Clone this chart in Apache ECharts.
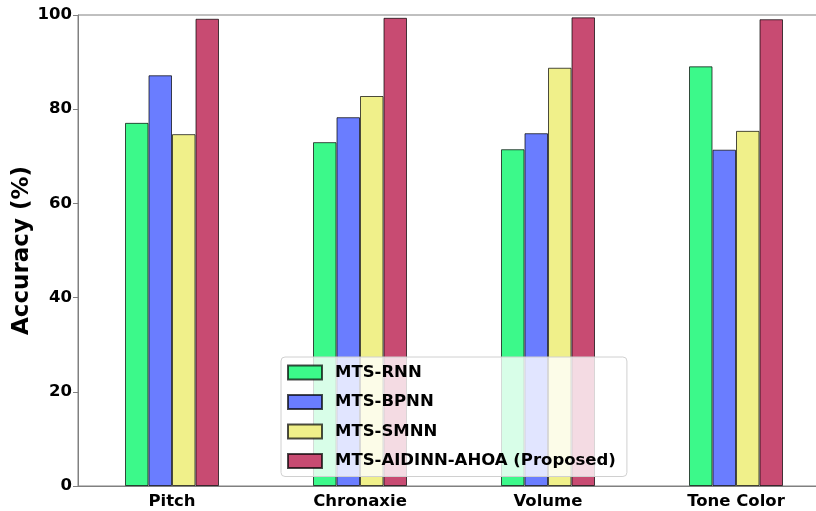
<!DOCTYPE html>
<html>
<head>
<meta charset="utf-8">
<script src="https://cdn.jsdelivr.net/npm/echarts@6/dist/echarts.min.js"></script>
<style>
  html, body { margin: 0; padding: 0; background: #fff; overflow: hidden; }
  #chart { width: 830px; height: 511px; }
</style>
</head>
<body>
<div id="chart"></div>
<script>
// 类别与各模型准确率
var categories = ["Pitch", "Chronaxie", "Volume", "Tone Color"];
var rnn = [77.1, 73.0, 71.5, 89.1];
var bpnn = [87.2, 78.3, 74.9, 71.4];
var smnn = [74.7, 82.8, 88.8, 75.4];
var aidinn = [99.2, 99.4, 99.5, 99.1];
var yTicks = [0, 20, 40, 60, 80, 100];

var myChart = echarts.init(document.getElementById("chart"));
var font = "DejaVu Sans";
var edge = "rgba(0,0,0,0.7)";

function barSeries(name, data, color) {
	return {
		name: name,
		type: "bar",
		data: data,
		barWidth: 23.5,
		barGap: "0%",
		itemStyle: { color: color, borderColor: edge, borderWidth: 1 }
	};
}

var option = {
	animation: false,
	grid: {
		left: 78, right: 0, top: 15, bottom: 25,
		outerBoundsMode: "none",
		containLabel: false,
		show: true, borderColor: "#808080", borderWidth: 1,
		backgroundColor: "transparent"
	},
	xAxis: {
		type: "category",
		data: categories,
		axisLine: { lineStyle: { color: "#808080", width: 1 } },
		axisTick: { alignWithLabel: true, length: 5, lineStyle: { color: "#808080" } },
		axisLabel: { color: "#000", fontFamily: font, fontWeight: "bold", fontSize: 16.5, margin: 7 }
	},
	yAxis: {
		type: "value",
		min: yTicks[0],
		max: yTicks[yTicks.length - 1],
		interval: 20,
		name: "Accuracy (%)",
		nameLocation: "middle",
		nameGap: 44,
		nameMoveOverlap: false,
		nameTextStyle: { color: "#000", fontFamily: font, fontWeight: "bold", fontSize: 23 },
		axisLine: { show: true, lineStyle: { color: "#808080", width: 1 } },
		axisTick: { show: true, length: 5, lineStyle: { color: "#808080" } },
		axisLabel: { color: "#000", fontFamily: font, fontWeight: "bold", fontSize: 16.5, margin: 6 },
		splitLine: { show: false }
	},
	legend: {
		orient: "vertical",
		left: 281,
		top: 357,
		padding: [7, 11, 7, 6],
		itemWidth: 34,
		itemHeight: 14,
		itemGap: 12.5,
		icon: "rect",
		backgroundColor: "rgba(255,255,255,0.8)",
		borderColor: "#d0d0d0",
		borderWidth: 1,
		borderRadius: 4,
		textStyle: { color: "#000", fontFamily: font, fontWeight: "bold", fontSize: 16.5, padding: [0, 0, 0, 8] },
		data: ["MTS-RNN", "MTS-BPNN", "MTS-SMNN", "MTS-AIDINN-AHOA (Proposed)"]
	},
	series: [
		barSeries("MTS-RNN", rnn, "#3cf98a"),
		barSeries("MTS-BPNN", bpnn, "#6a7dff"),
		barSeries("MTS-SMNN", smnn, "#f0f08a"),
		barSeries("MTS-AIDINN-AHOA (Proposed)", aidinn, "#c84b72")
	]
};
myChart.setOption(option);
</script>
</body>
</html>
